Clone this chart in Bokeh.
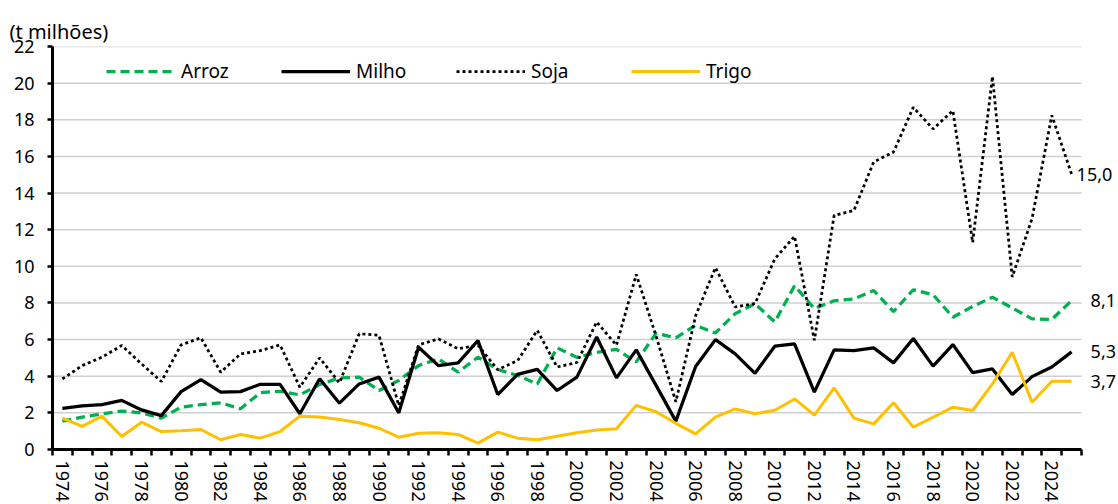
from bokeh.plotting import figure
from bokeh.models import Range1d, FixedTicker, Legend, LegendItem, Label
from bokeh.embed import file_html
from bokeh.resources import INLINE

years = list(range(1974, 2026))

arroz = [1.55, 1.77, 1.95, 2.10, 2.00, 1.71, 2.31, 2.45, 2.55, 2.22, 3.10, 3.18, 2.98,
         3.55, 3.90, 3.95, 3.22, 3.77, 4.58, 4.95, 4.22, 5.04, 4.37, 4.04, 3.58, 5.55,
         5.03, 5.30, 5.47, 4.78, 6.34, 6.10, 6.78, 6.36, 7.42, 7.96, 6.96, 8.94, 7.69,
         8.12, 8.22, 8.68, 7.53, 8.72, 8.45, 7.22, 7.81, 8.31, 7.73, 7.13, 7.10, 8.13]

milho = [2.25, 2.38, 2.45, 2.68, 2.16, 1.85, 3.16, 3.82, 3.13, 3.16, 3.56, 3.56, 1.95,
         3.86, 2.53, 3.58, 3.95, 2.00, 5.58, 4.58, 4.73, 5.95, 3.00, 4.10, 4.37, 3.22,
         3.95, 6.14, 3.91, 5.44, 3.50, 1.55, 4.53, 6.00, 5.22, 4.16, 5.64, 5.77, 3.13,
         5.44, 5.40, 5.55, 4.73, 6.06, 4.55, 5.73, 4.20, 4.40, 3.00, 3.98, 4.50, 5.33]

soja = [3.85, 4.58, 5.04, 5.68, 4.67, 3.71, 5.71, 6.10, 4.22, 5.22, 5.40, 5.71, 3.40,
        5.00, 3.64, 6.32, 6.23, 2.40, 5.71, 6.04, 5.50, 5.70, 4.35, 4.85, 6.50, 4.50,
        4.75, 6.96, 5.69, 9.56, 6.20, 2.60, 7.30, 9.93, 7.78, 7.96, 10.40, 11.64, 5.96,
        12.78, 13.05, 15.70, 16.24, 18.68, 17.50, 18.50, 11.30, 20.36, 9.42, 12.60, 18.24, 15.03]

trigo = [1.71, 1.26, 1.82, 0.71, 1.49, 0.98, 1.02, 1.09, 0.53, 0.82, 0.62, 0.98, 1.82,
         1.78, 1.64, 1.46, 1.16, 0.67, 0.89, 0.91, 0.82, 0.35, 0.95, 0.62, 0.53, 0.72,
         0.91, 1.07, 1.13, 2.41, 2.06, 1.43, 0.85, 1.77, 2.22, 1.95, 2.14, 2.76, 1.88,
         3.37, 1.71, 1.40, 2.55, 1.22, 1.76, 2.31, 2.13, 3.58, 5.31, 2.58, 3.73, 3.73]

y_ticks = list(range(0, 23, 2))
unit_label = "(t milhões)"

FONT = "Noto Sans"

x_start = years[0] - 0.5
x_stop = years[-1] + 0.5

p = figure(width=1118, height=504, output_backend="svg", toolbar_location=None,
           x_range=Range1d(x_start, x_stop + 1.87), y_range=Range1d(0, 22),
           min_border_left=52, min_border_right=0, min_border_top=46, min_border_bottom=55)
p.outline_line_color = None
p.background_fill_color = "white"
p.border_fill_color = "white"

# unit title
p.title.text = unit_label
p.title.align = "left"
p.title.offset = -43
p.title.standoff = 4
p.title.text_font = FONT
p.title.text_font_size = "20px"
p.title.text_font_style = "normal"
p.title.text_color = "black"

# axes
p.xaxis.bounds = (x_start, x_stop)
p.xaxis.ticker = FixedTicker(ticks=years[::2], minor_ticks=[y - 0.5 for y in years] + [x_stop])
p.xaxis.major_label_orientation = "vertical"
p.xaxis.major_tick_out = 0
p.xaxis.major_tick_in = 0
p.xaxis.major_tick_line_color = None
p.xaxis.minor_tick_out = 6
p.xaxis.minor_tick_in = 0
p.xaxis.minor_tick_line_color = "black"
p.xaxis.minor_tick_line_width = 2.5
p.xaxis.axis_line_width = 3
p.xaxis.axis_line_color = "black"
p.xaxis.major_label_standoff = 5
p.xaxis.major_label_text_font = FONT
p.xaxis.major_label_text_font_size = "18px"
p.xaxis.major_label_text_color = "black"

p.yaxis.ticker = FixedTicker(ticks=y_ticks)
p.yaxis.major_tick_out = 5
p.yaxis.major_tick_in = 0
p.yaxis.major_tick_line_width = 2.5
p.yaxis.major_tick_line_color = "black"
p.yaxis.minor_tick_line_color = None
p.yaxis.axis_line_width = 3
p.yaxis.axis_line_color = "black"
p.yaxis.major_label_standoff = 13
p.yaxis.major_label_text_font = FONT
p.yaxis.major_label_text_font_size = "18px"
p.yaxis.major_label_text_color = "black"

p.xgrid.grid_line_color = None
p.ygrid.grid_line_color = None

# horizontal gridlines limited to the data area
grid_vals = y_ticks[1:]
p.segment(x0=[x_start] * len(grid_vals), x1=[x_stop] * len(grid_vals),
          y0=grid_vals, y1=grid_vals, line_color="#D0D0D0", line_width=1.5)

r_arroz = p.line(years, arroz, line_color="#00B050", line_width=3.25, line_dash="9 5")
r_milho = p.line(years, milho, line_color="black", line_width=3.25)
r_soja = p.line(years, soja, line_color="black", line_width=2.75, line_dash="3 3")
r_trigo = p.line(years, trigo, line_color="#FFC000", line_width=3)

legend = Legend(items=[LegendItem(label="Arroz", renderers=[r_arroz]),
                       LegendItem(label="Milho", renderers=[r_milho]),
                       LegendItem(label="Soja", renderers=[r_soja]),
                       LegendItem(label="Trigo", renderers=[r_trigo])],
                orientation="horizontal", location=(54, 365),
                glyph_width=69, glyph_height=20, label_standoff=6, label_width=100,
                spacing=0, padding=0, margin=0,
                border_line_color=None, background_fill_alpha=0,
                label_text_font=FONT, label_text_font_size="19px",
                label_text_color="black")
p.add_layout(legend, "center")

# end value labels
series_end = [(soja, 5), (arroz, 19), (milho, 19), (trigo, 19)]
for vals, off in series_end:
    v = vals[-1]
    p.add_layout(Label(x=years[-1], y=v, x_offset=off, y_offset=0,
                       text=f"{v:.1f}".replace(".", ","),
                       text_font=FONT, text_font_size="18px", text_color="black",
                       text_baseline="middle", text_align="left"))

open("out.html", "w").write(file_html(p, INLINE))
